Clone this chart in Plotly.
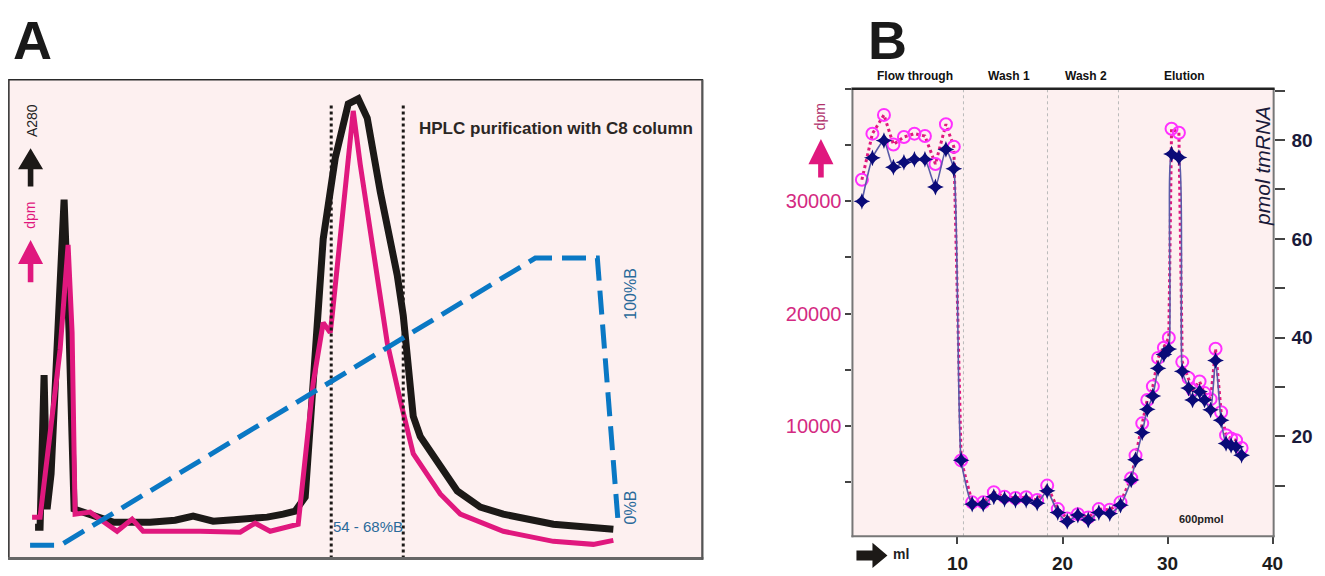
import plotly.graph_objects as go

W, H = 1325, 576
OFF = 8       # page body margin around the figure
K = 0.992     # observed page-to-picture scale

# ---------------- Panel A data (arbitrary time units, relative signal) ----------------
a_time_a280 = [2.7, 3.2, 3.6, 3.9, 4.3, 5.6, 6.1, 6.6, 7.2, 8.9, 10.5, 14.2, 16.7, 18.5, 20.5, 23.2,
               25.9, 27.5, 28.7, 29.7, 30.5, 31.5, 32.7, 34.0, 35.0, 35.9, 37.2, 38.2,
               38.9, 39.5, 40.0, 40.5, 41.2, 43.2, 44.9, 47.2, 49.5, 54.5, 57.2, 60.5]
a_a280 = [6.2, 6.2, 36.4, 9.8, 16.8, 71.2, 44.8, 9.8, 9.4, 8.2, 7.2, 7.2, 7.6, 8.4, 7.4, 7.8,
          8.2, 8.8, 9.4, 12.2, 34.8, 63.4, 79.4, 90.2, 91.2, 87.4, 72.8, 63.4,
          56.2, 48.2, 38.2, 28.2, 24.2, 18.2, 13.4, 10.2, 8.8, 6.8, 6.4, 5.8]

a_time_dpm = [2.4, 3.2, 5.2, 6.0, 6.4, 6.7, 8.2, 10.9, 12.4, 13.5, 19.2, 23.2, 24.7, 26.2,
              29.0, 30.5, 31.5, 32.2, 32.4, 34.5, 35.2, 36.5, 37.9, 39.2, 40.5,
              43.2, 45.2, 49.5, 54.5, 58.5, 60.5]
a_dpm = [8.2, 8.2, 41.4, 62.2, 44.8, 8.8, 9.2, 5.4, 7.8, 5.4, 5.4, 5.2, 7.0, 5.4,
         6.8, 34.8, 46.8, 44.8, 48.2, 88.8, 78.2, 61.4, 42.8, 31.4, 20.8,
         12.8, 8.8, 5.4, 3.4, 2.8, 3.6]

a_time_grad = [2.2, 5.2, 52.7, 58.9, 61.0]
a_grad_pctB = [0, 0, 100, 100, 7]

a_fraction_bounds = [32.3, 39.5]   # 54 - 68 %B pooled fraction
a_fraction_top = 90.2

# ---------------- Panel B data ----------------
b_ml = [0.9, 1.9, 3.0, 3.9, 4.9, 5.9, 6.9, 7.9, 8.9, 9.65,
        10.35, 11.4, 12.45, 13.46, 14.48, 15.52, 16.54, 17.59, 18.54, 19.55,
        20.45, 21.46, 22.45, 23.46, 24.5, 25.52, 26.54, 26.95, 27.59, 28.07,
        28.6, 29.1, 29.65, 30.12, 30.38, 31.08, 31.4, 32.0, 32.38, 33.05,
        33.52, 34.1, 34.57, 35.1, 35.57, 36.05, 36.52, 37.05]
b_dpm = [31900, 36000, 37670, 35040, 35700, 36000, 35790, 33300, 36840, 34830,
         6930, 3200, 3200, 4100, 3700, 3590, 3650, 3410, 4690, 2600,
         1770, 2150, 1860, 2600, 2540, 3200, 5350, 7380, 10230, 12310,
         13520, 16050, 16950, 17850, 36440, 36080, 15700, 14260, 13210, 13950,
         12920, 12380, 16860, 11210, 9180, 8880, 8730, 8030]
b_pmol = [67.6, 76.4, 79.9, 74.5, 75.5, 76.1, 76.1, 70.5, 78.1, 74.2,
          15.2, 6.3, 6.3, 7.8, 7.3, 7.1, 7.1, 6.5, 9.0, 4.6,
          2.8, 4.1, 3.1, 4.6, 4.4, 6.1, 11.2, 15.3, 20.8, 25.5,
          28.2, 33.8, 36.6, 37.7, 77.2, 76.5, 33.2, 29.8, 27.4, 29.1,
          27.4, 25.4, 35.4, 23.3, 18.6, 18.2, 17.9, 16.2]

b_sections = ["Flow through", "Wash 1", "Wash 2", "Elution"]
b_section_centers = [5.95, 14.9, 22.24, 31.57]
b_section_bounds = [10.57, 18.57, 25.33]

b_x_ticks = [10, 20, 30, 40]
b_dpm_ticks = [5000, 10000, 15000, 20000, 25000, 30000, 35000, 40000]
b_dpm_labels = ["", "10000", "", "20000", "", "30000", "", ""]
b_pmol_ticks = [10, 20, 30, 40, 50, 60, 70, 80, 90]
b_pmol_labels = ["", "20", "", "40", "", "60", "", "80", ""]

# ---------------- colours ----------------
PINK = "#e0187e"
BLACK = "#1c1917"
BLUE = "#0a78c4"
BLUE_TXT = "#2a6a9a"
NAVY = "#0a0a78"
NAVY_LINE = "#5a5aa8"
MAGENTA = "#ff30ff"
BG = "#fdf0f0"
FONT = "Liberation Sans, Arial, sans-serif"


def px(x):
    return (x / K - OFF) / W


def py(y):
    return 1 - (y / K - OFF) / H


fig = go.Figure()

# Panel A traces
fig.add_trace(go.Scatter(x=a_time_grad, y=a_grad_pctB, mode="lines", yaxis="y2", xaxis="x",
                         line=dict(color=BLUE, width=5, dash="24px,10px"), hoverinfo="skip"))
fig.add_trace(go.Scatter(x=a_time_a280, y=a_a280, mode="lines", xaxis="x", yaxis="y",
                         line=dict(color=BLACK, width=7)))
fig.add_trace(go.Scatter(x=a_time_dpm, y=a_dpm, mode="lines", xaxis="x", yaxis="y",
                         line=dict(color=PINK, width=5)))
for xb in a_fraction_bounds:
    fig.add_trace(go.Scatter(x=[xb, xb], y=[0, a_fraction_top], mode="lines", xaxis="x", yaxis="y",
                             line=dict(color=BLACK, width=3, dash="dot")))

# Panel B traces
fig.add_trace(go.Scatter(x=b_ml, y=b_pmol, mode="lines", xaxis="x2", yaxis="y4",
                         line=dict(color=NAVY_LINE, width=1.6, shape="spline", smoothing=0.5)))
fig.add_trace(go.Scatter(x=b_ml, y=b_dpm, mode="lines", xaxis="x2", yaxis="y3",
                         line=dict(color=PINK, width=3, dash="dot")))
fig.add_trace(go.Scatter(x=b_ml, y=b_dpm, mode="markers", xaxis="x2", yaxis="y3",
                         marker=dict(symbol="circle-open", size=12, color=MAGENTA,
                                     line=dict(width=2, color=MAGENTA))))
fig.add_trace(go.Scatter(x=b_ml, y=b_pmol, mode="markers", xaxis="x2", yaxis="y4",
                         marker=dict(symbol="star-diamond", size=12, color=NAVY,
                                     line=dict(width=0))))

shapes = []
# Panel A frame
shapes.append(dict(type="rect", xref="paper", yref="paper", x0=px(8.8), x1=px(702), y0=py(554), y1=py(79),
                   line=dict(color="#2a2a2a", width=1.5)))
shapes.append(dict(type="line", xref="paper", yref="paper", x0=px(8), x1=px(703), y0=py(554), y1=py(554),
                   line=dict(color="#666666", width=3)))
shapes.append(dict(type="line", xref="paper", yref="paper", x0=px(702), x1=px(702), y0=py(79), y1=py(555),
                   line=dict(color="#555555", width=2)))
# Panel B frame
shapes.append(dict(type="line", xref="paper", yref="paper", x0=px(852), x1=px(852), y0=py(88), y1=py(533),
                   line=dict(color="#777777", width=2)))
shapes.append(dict(type="line", xref="paper", yref="paper", x0=px(851), x1=px(1274), y0=py(532), y1=py(532),
                   line=dict(color="#777777", width=2)))
shapes.append(dict(type="line", xref="paper", yref="paper", x0=px(1273), x1=px(1273), y0=py(88), y1=py(533),
                   line=dict(color="#777777", width=2)))
shapes.append(dict(type="line", xref="paper", yref="paper", x0=px(851), x1=px(1274), y0=py(88), y1=py(88),
                   line=dict(color="#222222", width=2.5)))
# Panel B section separators
for xb in b_section_bounds:
    shapes.append(dict(type="line", xref="x2", yref="y3 domain", x0=xb, x1=xb, y0=0, y1=1, layer="below",
                       line=dict(color="#bbbbbb", width=1, dash="dot")))


def arrow_up(cx, tip, head_bot, shaft_bot, hw, sw, color):
    path = (f"M {px(cx)},{py(tip)} L {px(cx + hw)},{py(head_bot)} L {px(cx + sw)},{py(head_bot)} "
            f"L {px(cx + sw)},{py(shaft_bot)} L {px(cx - sw)},{py(shaft_bot)} L {px(cx - sw)},{py(head_bot)} "
            f"L {px(cx - hw)},{py(head_bot)} Z")
    return dict(type="path", xref="paper", yref="paper", path=path, fillcolor=color, line=dict(width=0))


def arrow_right(cy, tip, head_left, shaft_left, hh, sh, color):
    path = (f"M {px(tip)},{py(cy)} L {px(head_left)},{py(cy - hh)} L {px(head_left)},{py(cy - sh)} "
            f"L {px(shaft_left)},{py(cy - sh)} L {px(shaft_left)},{py(cy + sh)} L {px(head_left)},{py(cy + sh)} "
            f"L {px(head_left)},{py(cy + hh)} Z")
    return dict(type="path", xref="paper", yref="paper", path=path, fillcolor=color, line=dict(width=0))


shapes.append(arrow_up(30.5, 147, 168, 185, 12.5, 2.8, BLACK))
shapes.append(arrow_up(30.5, 238, 262, 280, 12.5, 2.8, PINK))
shapes.append(arrow_up(820.5, 138, 163, 176, 12.5, 2.8, PINK))
shapes.append(arrow_right(551, 887, 872, 856, 12.5, 5, BLACK))


def txt(s, x, y, size, color, angle=0, bold=False, italic=False):
    return dict(text=s, x=px(x), y=py(y), xref="paper", yref="paper", showarrow=False,
                textangle=angle, xanchor="center", yanchor="middle",
                font=dict(size=size, color=color, family=FONT,
                          weight="bold" if bold else "normal",
                          style="italic" if italic else "normal"))


annotations = [
    txt("A", 32, 39.5, 54, "#1a1a1a", bold=True),
    txt("B", 887, 39.5, 54, "#1a1a1a", bold=True),
    txt("HPLC purification with C8 column", 556, 127, 17, "#2b2624", bold=True),
    txt("54 - 68%B", 368, 522, 15, BLUE_TXT),
    txt("100%B", 630, 291, 16, BLUE_TXT, angle=-90),
    txt("0%B", 630, 503, 16, BLUE_TXT, angle=-90),
    txt("A280", 32, 120, 14, "#222222", angle=-90),
    txt("dpm", 30, 214, 14, PINK, angle=-90),
    txt("dpm", 820, 116, 14, "#b0306a", angle=-90),
    txt("pmol tmRNA", 1262, 165, 21, "#1a1a3a", angle=-90, italic=True),
    txt("600pmol", 1201, 515, 11, "#222222", bold=True),
    txt("ml", 901, 550, 14, "#222222", bold=True),
]
for name, c in zip(b_sections, b_section_centers):
    annotations.append(dict(text=name, x=c, y=py(75), xref="x2", yref="paper", showarrow=False,
                            xanchor="center", yanchor="middle",
                            font=dict(size=12, color="#111111", family=FONT, weight="bold")))

fig.update_layout(
    width=W, height=H, margin=dict(l=0, r=0, t=0, b=0),
    paper_bgcolor="white", plot_bgcolor=BG, showlegend=False,
    xaxis=dict(domain=[px(8), px(702)], range=[0, 69.4], visible=False, anchor="y"),
    yaxis=dict(domain=[py(554), py(79)], range=[0, 95], visible=False, anchor="x"),
    yaxis2=dict(overlaying="y", anchor="x", range=[(541 - 554) / 2.85, (541 - 79) / 2.85], visible=False),
    xaxis2=dict(domain=[px(852), px(1273)], range=[0, 40.1], anchor="y3",
                showgrid=False, zeroline=False, showline=False,
                tickvals=b_x_ticks, ticks="outside", ticklen=7, tickwidth=1.5, tickcolor="#444444",
                ticklabelstandoff=3,
                tickfont=dict(size=19, color="#1c1c1c", family=FONT, weight="bold")),
    yaxis3=dict(domain=[py(532), py(88)], range=[180, 40000], anchor="x2",
                showgrid=False, zeroline=False, showline=False,
                tickvals=b_dpm_ticks, ticktext=b_dpm_labels, ticks="outside", ticklen=6,
                tickwidth=1.5, tickcolor="#444444",
                tickfont=dict(size=20, color="#d42a82", family=FONT)),
    yaxis4=dict(overlaying="y3", anchor="x2", side="right", range=[-0.2, 90.4],
                showgrid=False, zeroline=False, showline=False,
                tickvals=b_pmol_ticks, ticktext=b_pmol_labels, ticks="outside", ticklen=10,
                tickwidth=1.5, tickcolor="#444444", ticklabelstandoff=3,
                tickfont=dict(size=19, color="#1a1a3a", family=FONT, weight="bold")),
    shapes=shapes, annotations=annotations,
)

fig.write_html("out.html")
